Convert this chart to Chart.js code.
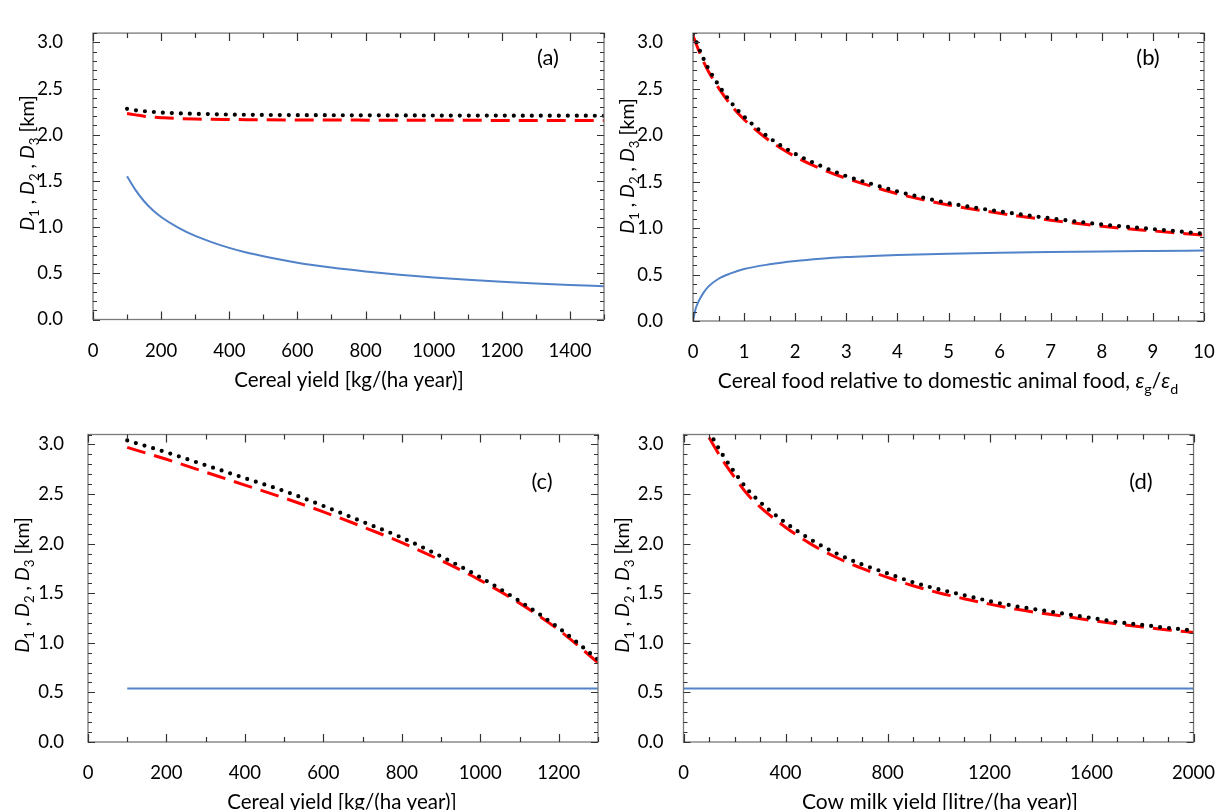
<!DOCTYPE html>
<html>
<head>
<meta charset="utf-8">
<title>D1, D2, D3 distances</title>
<script src="https://cdn.jsdelivr.net/npm/chart.js@4.4.1/dist/chart.umd.min.js"></script>
<style>
  html, body { margin: 0; padding: 0; background: #fff; }
  body { width: 1227px; height: 810px; position: relative; overflow: hidden; }
  canvas { position: absolute; }
</style>
</head>
<body>
<canvas id="chartA"></canvas>
<canvas id="chartB"></canvas>
<canvas id="chartC"></canvas>
<canvas id="chartD"></canvas>
<script>
// ---- DATA ----
// (a) cereal yield
const yieldA = [100, 125, 150, 175, 200, 250, 300, 350, 400, 450, 500, 600, 700, 800, 900, 1000, 1100, 1200, 1300, 1400, 1500];
const d1A = [1.55, 1.40, 1.28, 1.185, 1.11, 0.995, 0.905, 0.835, 0.775, 0.725, 0.685, 0.615, 0.562, 0.52, 0.485, 0.455, 0.43, 0.408, 0.39, 0.374, 0.36];
const d2A = [2.23, 2.215, 2.20, 2.19, 2.185, 2.176, 2.17, 2.167, 2.165, 2.163, 2.162, 2.16, 2.159, 2.158, 2.157, 2.156, 2.156, 2.155, 2.155, 2.155, 2.155];
const d3A = [2.28, 2.265, 2.255, 2.247, 2.24, 2.232, 2.226, 2.222, 2.218, 2.216, 2.214, 2.212, 2.211, 2.21, 2.209, 2.208, 2.207, 2.207, 2.206, 2.206, 2.205];

// (b) cereal food relative to domestic animal food
const ratioB = [0, 0.05, 0.1, 0.2, 0.3, 0.5, 0.75, 1, 1.5, 2, 2.5, 3, 3.5, 4, 5, 6, 7, 8, 9, 10];
const d1B = [0, 0.13, 0.2, 0.3, 0.37, 0.455, 0.515, 0.56, 0.61, 0.645, 0.67, 0.688, 0.70, 0.71, 0.724, 0.734, 0.742, 0.749, 0.754, 0.758];
const d2B = [3.07, 3.0, 2.93, 2.80, 2.69, 2.51, 2.32, 2.17, 1.94, 1.77, 1.64, 1.535, 1.45, 1.37, 1.25, 1.16, 1.085, 1.02, 0.97, 0.925];
const d3B = [3.09, 3.03, 2.96, 2.83, 2.72, 2.54, 2.35, 2.20, 1.97, 1.80, 1.67, 1.56, 1.475, 1.395, 1.27, 1.18, 1.105, 1.04, 0.99, 0.94];

// (c) cereal yield
const yieldC = [100, 200, 300, 400, 500, 600, 700, 800, 900, 1000, 1100, 1200, 1300];
const d1C = [0.54, 0.54, 0.54, 0.54, 0.54, 0.54, 0.54, 0.54, 0.54, 0.54, 0.54, 0.54, 0.54];
const d2C = [2.97, 2.85, 2.72, 2.59, 2.46, 2.32, 2.17, 2.01, 1.83, 1.63, 1.40, 1.13, 0.80];
const d3C = [3.04, 2.92, 2.79, 2.66, 2.53, 2.38, 2.22, 2.06, 1.87, 1.66, 1.42, 1.15, 0.83];

// (d) cow milk yield
const milkD = [100, 150, 200, 250, 300, 400, 500, 600, 700, 800, 900, 1000, 1100, 1200, 1300, 1400, 1500, 1600, 1700, 1800, 1900, 2000];
const d2D = [3.07, 2.855, 2.67, 2.50, 2.37, 2.165, 1.995, 1.86, 1.75, 1.66, 1.575, 1.505, 1.445, 1.39, 1.34, 1.30, 1.265, 1.225, 1.19, 1.16, 1.13, 1.105];
const d3D = [3.13, 2.91, 2.72, 2.55, 2.42, 2.21, 2.04, 1.90, 1.79, 1.70, 1.61, 1.54, 1.48, 1.42, 1.37, 1.33, 1.29, 1.25, 1.21, 1.18, 1.15, 1.125];
const milkD1 = [0, 2000];
const d1D = [0.54, 0.54];

// tick values and labels
const yTicks = [0, 0.5, 1, 1.5, 2, 2.5, 3];
const yTickLabels = ['0.0', '0.5', '1.0', '1.5', '2.0', '2.5', '3.0'];
const xTicksA = [0, 200, 400, 600, 800, 1000, 1200, 1400];
const xTicksB = [0, 1, 2, 3, 4, 5, 6, 7, 8, 9, 10];
const xTicksC = [0, 200, 400, 600, 800, 1000, 1200];
const xTicksD = [0, 400, 800, 1200, 1600, 2000];

// ---- STYLE ----
const FONT = 'Lato, "Open Sans", sans-serif';
Chart.defaults.font.family = FONT;
Chart.defaults.color = '#000';

const blue = { borderColor: '#5283c9', borderWidth: 2 };
const red = { borderColor: '#ff0000', borderWidth: 3, borderDash: [19, 9] };
const black = { borderColor: '#000000', borderWidth: 4.2, borderDash: [0, 9], borderCapStyle: 'round' };

const yTitle = [
  { t: 'D', i: true }, { t: '1', sub: true }, { t: ' , ' },
  { t: 'D', i: true }, { t: '2', sub: true }, { t: ' , ' },
  { t: 'D', i: true }, { t: '3', sub: true }, { t: ' [km]' }
];

function series(xs, ys, style) {
  return Object.assign({
    data: xs.map((x, i) => ({ x: x, y: ys[i] })),
    pointRadius: 0,
    fill: false,
    cubicInterpolationMode: 'monotone'
  }, style);
}

function fontOf(p, size) {
  return (p.i ? 'italic ' : '') + (p.sub ? (size * 0.68).toFixed(1) : size) + 'px ' + FONT;
}

function drawRich(ctx, parts, x, y, size) {
  let w = 0;
  parts.forEach((p) => { ctx.font = fontOf(p, size); w += ctx.measureText(p.t).width; });
  let px = x - w / 2;
  ctx.textBaseline = 'alphabetic';
  ctx.textAlign = 'left';
  parts.forEach((p) => {
    ctx.font = fontOf(p, size);
    ctx.fillText(p.t, px, y + size * 0.35 + (p.sub ? size * 0.28 : 0));
    px += ctx.measureText(p.t).width;
  });
}

// frame, inside tick marks, titles and panel letter
function framePlugin(p) {
  return {
    id: 'frame' + p.id,
    afterDraw(chart) {
      const ctx = chart.ctx;
      const a = chart.chartArea;
      const x = chart.scales.x, y = chart.scales.y;
      ctx.save();
      ctx.strokeStyle = '#7a7a7a';
      ctx.lineWidth = 1.3;
      ctx.strokeRect(a.left, a.top, a.right - a.left, a.bottom - a.top);

      ctx.strokeStyle = '#333';
      ctx.lineWidth = 1.2;
      ctx.beginPath();
      const ny = Math.round(y.max / 0.1);
      for (let i = 0; i <= ny; i++) {
        const py = Math.round(y.getPixelForValue(i * 0.1)) + 0.5;
        const len = i % 5 === 0 ? 7 : 4;
        ctx.moveTo(a.left, py); ctx.lineTo(a.left + len, py);
        ctx.moveTo(a.right, py); ctx.lineTo(a.right - len, py);
      }
      const nx = Math.round(x.max / p.xMinor);
      for (let i = 0; i <= nx; i++) {
        const v = i * p.xMinor;
        const px = Math.round(x.getPixelForValue(v)) + 0.5;
        const len = p.xTicks.includes(v) ? 8 : 5;
        ctx.moveTo(px, a.bottom); ctx.lineTo(px, a.bottom - len);
        ctx.moveTo(px, a.top); ctx.lineTo(px, a.top + len);
      }
      ctx.stroke();

      const ox = p.box[0], oy = p.box[1];
      ctx.fillStyle = '#000';
      // y title
      ctx.save();
      ctx.translate(p.yTitlePos[0] - ox, p.yTitlePos[1] - oy);
      ctx.rotate(-Math.PI / 2);
      drawRich(ctx, yTitle, 0, 0, 19.5);
      ctx.restore();
      // x title
      drawRich(ctx, p.xTitle, p.xTitlePos[0] - ox, p.xTitlePos[1] - oy, p.titleSize);
      // panel letter
      drawRich(ctx, [{ t: p.letter }], p.letterPos[0] - ox, p.letterPos[1] - oy, 22);
      ctx.restore();
    }
  };
}

function makeChart(p) {
  const cv = document.getElementById(p.id);
  const [cx, cy, cw, ch] = p.box;
  const [L, T, R, B] = p.area;
  cv.width = cw; cv.height = ch;
  cv.style.left = cx + 'px'; cv.style.top = cy + 'px';
  return new Chart(cv, {
    type: 'line',
    data: {
      datasets: [
        series(p.xs, p.d3, black),
        series(p.xs, p.d2, red),
        series(p.d1x || p.xs, p.d1, blue)
      ]
    },
    options: {
      responsive: false,
      animation: false,
      devicePixelRatio: 1,
      layout: { autoPadding: false, padding: { left: 0, top: T - cy, right: cx + cw - R, bottom: 0 } },
      plugins: { legend: { display: false }, tooltip: { enabled: false } },
      scales: {
        x: {
          type: 'linear', min: 0, max: p.xMax,
          grid: { display: false }, border: { display: false },
          ticks: { padding: 12, font: { size: 18.5 }, color: '#000', maxRotation: 0, autoSkip: false,
                   callback: (v) => String(v) },
          afterBuildTicks: (s) => { s.ticks = p.xTicks.map((v) => ({ value: v })); },
          afterFit: (s) => { s.height = cy + ch - B; }
        },
        y: {
          type: 'linear', min: 0, max: 3.1,
          grid: { display: false }, border: { display: false },
          ticks: { padding: p.yPad, font: { size: 18.5 }, color: '#000', autoSkip: false,
                   callback: (v, i) => yTickLabels[i] },
          afterBuildTicks: (s) => { s.ticks = yTicks.map((v) => ({ value: v })); },
          afterFit: (s) => { s.width = L - cx; }
        }
      }
    },
    plugins: [framePlugin(p)]
  });
}

makeChart({
  id: 'chartA', box: [0, 0, 614, 405], area: [93, 10.5, 604, 319.5],
  xs: yieldA, d1: d1A, d2: d2A, d3: d3A, xMax: 1500, xTicks: xTicksA, xMinor: 100, yPad: 22,
  xTitle: [{ t: 'Cereal yield [kg/(ha year)]' }], xTitlePos: [349, 380], titleSize: 20.5,
  yTitlePos: [27, 163], letter: '(a)', letterPos: [548, 57]
});

makeChart({
  id: 'chartB', box: [614, 0, 613, 405], area: [693, 13, 1204, 321],
  xs: ratioB, d1: d1B, d2: d2B, d3: d3B, xMax: 10, xTicks: xTicksB, xMinor: 0.5, yPad: 22,
  xTitle: [{ t: 'Cereal food relative to domestic animal food, ' }, { t: '\u03B5', i: true }, { t: 'g', sub: true },
           { t: '/' }, { t: '\u03B5', i: true }, { t: 'd', sub: true }],
  xTitlePos: [948, 381], titleSize: 21, yTitlePos: [627, 166], letter: '(b)', letterPos: [1148, 57]
});

makeChart({
  id: 'chartC', box: [0, 405, 614, 405], area: [88, 434.5, 598, 742],
  xs: yieldC, d1: d1C, d2: d2C, d3: d3C, xMax: 1300, xTicks: xTicksC, xMinor: 100, yPad: 16,
  xTitle: [{ t: 'Cereal yield [kg/(ha year)]' }], xTitlePos: [342, 802], titleSize: 20.5,
  yTitlePos: [22, 585], letter: '(c)', letterPos: [542, 481]
});

makeChart({
  id: 'chartD', box: [614, 405, 613, 405], area: [683.5, 434.5, 1198, 742],
  xs: milkD, d1x: milkD1, d1: d1D, d2: d2D, d3: d3D, xMax: 2000, xTicks: xTicksD, xMinor: 100, yPad: 12,
  xTitle: [{ t: 'Cow milk yield [litre/(ha year)]' }], xTitlePos: [940, 802], titleSize: 21,
  yTitlePos: [622, 585], letter: '(d)', letterPos: [1141, 481]
});
</script>
</body>
</html>
